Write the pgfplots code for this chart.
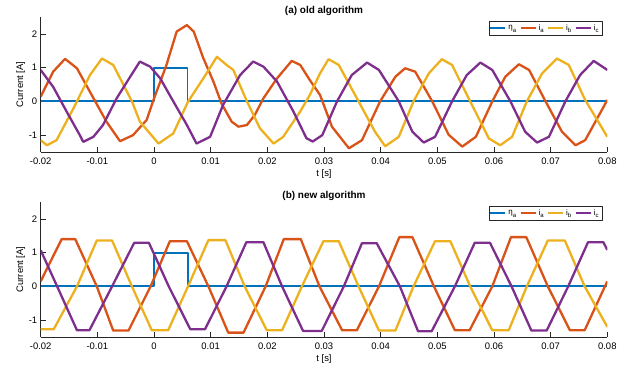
\documentclass[border=0pt]{standalone}
\usepackage{fontspec}
\setmainfont{Liberation Sans}
\usepackage{pgfplots}
\pgfplotsset{compat=1.18}

\definecolor{cblue}{rgb}{0,0.447,0.741}
\definecolor{corange}{rgb}{0.850,0.325,0.098}
\definecolor{cyellow}{rgb}{0.929,0.694,0.125}
\definecolor{cpurple}{rgb}{0.494,0.184,0.556}
\definecolor{axgray}{rgb}{0.15,0.15,0.15}

\newcommand{\sub}[1]{\raisebox{-0.28em}{\fontsize{6}{6}\selectfont #1}}

\pgfplotsset{
  phase/.style={
    scale only axis, width=566.6bp, height=135bp,
    xmin=-0.02, xmax=0.08, ymin=-1.5, ymax=2.5,
    axis x line*=bottom, axis y line*=left,
    tick align=inside, major tick length=5bp,
    scaled x ticks=false, scaled y ticks=false,
    xtick={-0.02,-0.01,0,0.01,0.02,0.03,0.04,0.05,0.06,0.07,0.08},
    xticklabels={-0.02,-0.01,0,0.01,0.02,0.03,0.04,0.05,0.06,0.07,0.08},
    ytick={-1,0,1,2}, yticklabels={-1,0,1,2},
    tick label style={font=\fontsize{9.5}{11}\selectfont},
    xticklabel style={yshift=-2bp},
    axis line style={axgray, line width=0.5bp},
    tick style={axgray, line width=0.5bp},
    xlabel={t [s]}, ylabel={Current [A]},
    xlabel style={at={(axis description cs:0.5,-0.16)}, anchor=center,
      font=\fontsize{9.5}{11}\selectfont},
    ylabel style={at={(axis description cs:-0.0353,0.5)}, anchor=center,
      font=\fontsize{9.5}{11}\selectfont},
    title style={at={(axis description cs:0.5,1)}, anchor=center, yshift=0.5bp,
      font=\bfseries\fontsize{10}{12}\selectfont},
    legend columns=4,
    legend style={at={(axis description cs:1,1)}, anchor=north east,
      xshift=-5bp, yshift=-4bp, draw=axgray, line width=0.5bp,
      font=\fontsize{8}{9}\selectfont, inner sep=1.5bp,
      /tikz/every odd column/.append style={column sep=1bp},
      /tikz/every even column/.append style={column sep=2.5bp}},
    line join=round,
  },
  % legend sample: a short coloured bar
  swatch/.style={legend image code/.code={%
    \node[inner sep=0pt, anchor=west] at (0bp,0bp)
      {\textcolor{#1}{\rule[-0.65bp]{15bp}{1.3bp}}};}},
  stepline/.style={draw=cblue, line width=1.8bp},
  cur/.style={draw=#1, line width=2.3bp},
}

\begin{document}
\begin{tikzpicture}
\useasboundingbox (0,0) rectangle (632bp,366bp);

% ---------- (a) old algorithm ----------
\begin{axis}[phase, at={(40.7bp,214bp)}, anchor=south west,
  title={(a) old algorithm}]
\addlegendimage{swatch=cblue}
\addlegendentry{η\sub{a}}
\addlegendimage{swatch=corange}
\addlegendentry{i\sub{a}}
\addlegendimage{swatch=cyellow}
\addlegendentry{i\sub{b}}
\addlegendimage{swatch=cpurple}
\addlegendentry{i\sub{c}}
\addplot[stepline, forget plot] coordinates {(-0.02,0) (0,0) (0,1) (0.0059,1) (0.0059,0) (0.08,0)};
\addplot[cur=corange, forget plot] coordinates {
(-0.02,0.14) (-0.0178,0.88) (-0.0157,1.26) (-0.0136,0.98) (-0.0113,0.28)
(-0.0084,-0.60) (-0.0060,-1.18) (-0.0037,-1.00) (-0.0013,-0.55) (-0.0001,0.04)
(0.0022,1.08) (0.0040,2.07) (0.0058,2.26) (0.0070,2.07) (0.0087,1.28)
(0.0105,0.58) (0.0119,-0.06) (0.0137,-0.60) (0.0149,-0.75) (0.0164,-0.70)
(0.0178,-0.40) (0.0193,0.09) (0.0217,0.68) (0.0243,1.20) (0.0258,1.08)
(0.0275,0.63) (0.0293,0.19) (0.0314,-0.75) (0.0344,-1.39) (0.0367,-1.15)
(0.0399,0) (0.0426,0.73) (0.0443,0.98) (0.0461,0.88) (0.0491,0)
(0.0520,-0.99) (0.0544,-1.34) (0.0568,-1.05) (0.0597,0) (0.0620,0.73)
(0.0644,1.10) (0.0662,0.93) (0.0691,0) (0.0720,-0.90) (0.0744,-1.30)
(0.0761,-1.15) (0.08,0.04)};
\addplot[cur=cyellow, forget plot] coordinates {
(-0.02,-1.15) (-0.0189,-1.30) (-0.0172,-1.15) (-0.0142,-0.20) (-0.0113,0.78)
(-0.0092,1.27) (-0.0072,1.08) (-0.0039,0) (-0.0025,-0.60) (0.0008,-1.25)
(0.0034,-0.95) (0.0060,-0.01) (0.0087,0.68) (0.0111,1.32) (0.0128,1.08)
(0.0140,0.93) (0.0164,0) (0.0187,-0.80) (0.0211,-1.25) (0.0228,-1.05)
(0.0258,-0.30) (0.0275,0.19) (0.0293,0.83) (0.0308,1.25) (0.0326,1.08)
(0.0361,0) (0.0390,-0.90) (0.0408,-1.33) (0.0432,-1.05) (0.0458,0)
(0.0485,0.83) (0.0508,1.25) (0.0526,1.08) (0.0558,0) (0.0591,-1.10)
(0.0611,-1.30) (0.0632,-1.05) (0.0658,0) (0.0685,0.83) (0.0711,1.27)
(0.0732,1.08) (0.0761,0.04) (0.08,-1.05)};
\addplot[cur=cpurple, forget plot] coordinates {
(-0.02,0.93) (-0.0178,0.43) (-0.0154,-0.31) (-0.0131,-1.00) (-0.0125,-1.20)
(-0.0107,-1.05) (-0.0090,-0.70) (-0.0066,0.09) (-0.0042,0.73) (-0.0025,1.18)
(-0.0007,1.03) (0.0011,0.68) (0.0034,0) (0.0058,-0.70) (0.0075,-1.25)
(0.0099,-1.05) (0.0122,-0.10) (0.0152,0.78) (0.0175,1.18) (0.0193,1.03)
(0.0217,0.59) (0.0246,-0.30) (0.0269,-1.09) (0.0280,-1.19) (0.0297,-1.00)
(0.0323,0) (0.0349,0.78) (0.0376,1.15) (0.0397,0.93) (0.0432,0)
(0.0456,-0.90) (0.0476,-1.22) (0.0496,-1.05) (0.0526,0) (0.0552,0.78)
(0.0576,1.15) (0.0597,0.93) (0.0629,0) (0.0655,-0.90) (0.0676,-1.22)
(0.0697,-1.05) (0.0726,0) (0.0752,0.78) (0.0776,1.20) (0.08,0.93)};
\end{axis}

% ---------- (b) new algorithm ----------
\begin{axis}[phase, at={(40.7bp,29bp)}, anchor=south west,
  title={(b) new algorithm}]
\addlegendimage{swatch=cblue}
\addlegendentry{η\sub{a}}
\addlegendimage{swatch=corange}
\addlegendentry{i\sub{a}}
\addlegendimage{swatch=cyellow}
\addlegendentry{i\sub{b}}
\addlegendimage{swatch=cpurple}
\addlegendentry{i\sub{c}}
\addplot[stepline, forget plot] coordinates {(-0.02,0) (0,0) (0,1) (0.0060,1) (0.0060,0) (0.08,0)};
\addplot[cur=corange, forget plot] coordinates {
(-0.02,0.15) (-0.0163,1.40) (-0.0139,1.40) (-0.0101,0) (-0.0072,-1.31)
(-0.0045,-1.31) (-0.0006,0) (0.0028,1.34) (0.0058,1.34) (0.0096,0)
(0.0131,-1.37) (0.0158,-1.37) (0.0197,0) (0.0229,1.40) (0.0259,1.40)
(0.0292,0) (0.0332,-1.30) (0.0358,-1.30) (0.0397,0) (0.0433,1.46)
(0.0456,1.46) (0.0494,0) (0.0531,-1.30) (0.0557,-1.30) (0.0597,0)
(0.0630,1.46) (0.0657,1.46) (0.0695,0) (0.0734,-1.30) (0.0760,-1.30)
(0.08,0.15)};
\addplot[cur=cyellow, forget plot] coordinates {
(-0.02,-1.27) (-0.0177,-1.27) (-0.0136,0) (-0.0101,1.36) (-0.0074,1.36)
(-0.0039,0) (-0.0004,-1.30) (0.0025,-1.30) (0.0060,0) (0.0096,1.37)
(0.0126,1.37) (0.0160,0) (0.0199,-1.30) (0.0226,-1.30) (0.0261,0)
(0.0299,1.34) (0.0326,1.34) (0.0361,0) (0.0397,-1.31) (0.0426,-1.31)
(0.0458,0) (0.0496,1.34) (0.0523,1.34) (0.0558,0) (0.0597,-1.30)
(0.0626,-1.30) (0.0658,0) (0.0695,1.36) (0.0725,1.36) (0.0760,0)
(0.08,-1.20)};
\addplot[cur=cpurple, forget plot] coordinates {
(-0.02,1.07) (-0.0171,0) (-0.0136,-1.30) (-0.0114,-1.30) (-0.0074,0)
(-0.0035,1.29) (-0.0009,1.29) (0.0026,0) (0.0064,-1.27) (0.0090,-1.27)
(0.0128,0) (0.0163,1.31) (0.0193,1.31) (0.0226,0) (0.0263,-1.32)
(0.0296,-1.32) (0.0335,0) (0.0367,1.28) (0.0393,1.28) (0.0434,0)
(0.0466,-1.33) (0.0490,-1.33) (0.0531,0) (0.0566,1.29) (0.0593,1.29)
(0.0631,0) (0.0666,-1.31) (0.0693,-1.31) (0.0731,0) (0.0766,1.31)
(0.0793,1.31) (0.08,1.08)};
\end{axis}
\end{tikzpicture}
\end{document}
